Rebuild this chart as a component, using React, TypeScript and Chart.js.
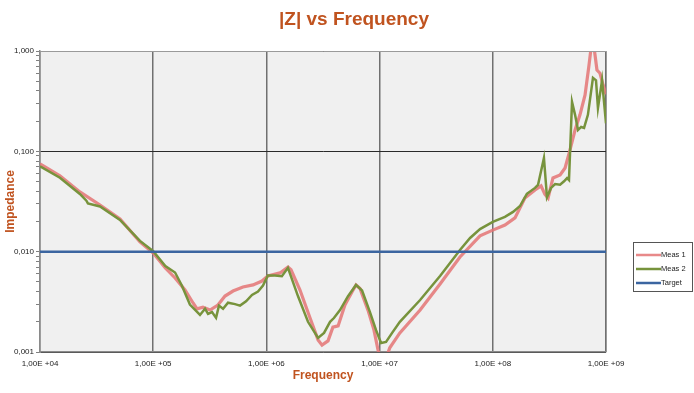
import React, { useEffect, useRef } from 'react';
import { Chart, registerables } from 'chart.js';

Chart.register(...registerables);

const chartTitle = '|Z| vs Frequency';
const xTitle = 'Frequency';
const yTitle = 'Impedance';
const seriesNames = ['Meas 1', 'Meas 2', 'Target'];

const meas1Freq = [
  1.0e4, 1.5e4, 2.25e4, 3.39e4, 5.09e4, 7.64e4, 1.0e5, 1.28e5, 1.56e5, 1.91e5, 2.25e5, 2.44e5,
  2.75e5, 3.18e5, 3.73e5, 4.31e5, 5.07e5, 6.21e5, 7.62e5, 9.14e5, 1.03e6, 1.32e6, 1.55e6,
  1.65e6, 1.98e6, 2.43e6, 2.86e6, 3.1e6, 3.5e6, 3.87e6, 4.3e6, 4.94e6, 5.7e6, 6.19e6, 6.71e6,
  7.91e6, 8.91e6, 9.68e6, 1.03e7, 1.14e7, 1.23e7, 1.51e7, 2.28e7, 3.42e7, 5.13e7, 7.71e7,
  1.0e8, 1.28e8, 1.57e8, 1.92e8, 2.36e8, 2.67e8, 2.88e8, 3.08e8, 3.4e8, 3.93e8, 4.35e8,
  4.81e8, 5.33e8, 5.89e8, 6.53e8, 7.08e8, 7.38e8, 7.83e8, 8.32e8, 8.85e8, 9.42e8, 1.0e9,
];
const meas1Z = [
  0.0748, 0.0569, 0.0394, 0.0292, 0.0212, 0.0125, 0.0097, 0.00687, 0.00547, 0.00415, 0.00308, 0.00269,
  0.0028, 0.00262, 0.00294, 0.00361, 0.00405, 0.00445, 0.00466, 0.0051, 0.00573, 0.00614, 0.00704,
  0.0066, 0.00415, 0.00218, 0.00132, 0.00117, 0.00129, 0.00177, 0.00182, 0.00294, 0.00396, 0.00466, 0.0043,
  0.0026, 0.00166, 0.00105, 0.0008, 0.00087, 0.0011, 0.00155, 0.00262, 0.00477, 0.00885, 0.01437,
  0.0164, 0.01845, 0.0217, 0.0343, 0.0412, 0.0452, 0.0375, 0.0343, 0.0543, 0.0582, 0.0683,
  0.1033, 0.163, 0.231, 0.365, 0.726, 1.07, 1.1, 0.647, 0.6, 0.46, 0.37,
];

const meas2Freq = [
  1.0e4, 1.5e4, 2.25e4, 2.57e4, 2.65e4, 3.39e4, 5.09e4, 7.64e4, 1.0e5, 1.28e5, 1.56e5, 1.79e5,
  2.11e5, 2.59e5, 2.87e5, 3.05e5, 3.31e5, 3.59e5, 3.81e5, 4.14e5, 4.58e5, 5.28e5, 5.85e5,
  6.61e5, 7.46e5, 8.43e5, 9.33e5, 1.03e6, 1.19e6, 1.37e6, 1.55e6, 1.9e6, 2.33e6, 2.86e6,
  3.23e6, 3.65e6, 3.95e6, 4.47e6, 5.26e6, 6.19e6, 7.0e6, 8.22e6, 9.29e6, 1.03e7, 1.14e7,
  1.29e7, 1.51e7, 2.28e7, 3.42e7, 5.13e7, 6.3e7, 7.71e7, 1.0e8, 1.28e8, 1.51e8, 1.74e8,
  2.0e8, 2.36e8, 2.51e8, 2.83e8, 3.01e8, 3.27e8, 3.55e8, 3.93e8, 4.26e8, 4.53e8, 4.71e8,
  5.01e8, 5.33e8, 5.66e8, 6.03e8, 6.4e8, 6.92e8, 7.67e8, 8.16e8, 8.49e8, 9.23e8, 1.0e9,
];
const meas2Z = [
  0.071, 0.0545, 0.0376, 0.0322, 0.0303, 0.0282, 0.0207, 0.0128, 0.0101, 0.0072, 0.0062, 0.0046,
  0.00297, 0.00234, 0.0027, 0.0024, 0.0025, 0.00219, 0.0029, 0.0027, 0.0031, 0.003, 0.0029,
  0.0032, 0.0037, 0.004, 0.0046, 0.0058, 0.0058, 0.0057, 0.0069, 0.00361, 0.002, 0.00138,
  0.00155, 0.002, 0.00218, 0.00262, 0.0036, 0.00466, 0.0041, 0.0025, 0.00166, 0.00123, 0.00126,
  0.00155, 0.002, 0.0033, 0.00573, 0.0104, 0.0137, 0.0168, 0.0198, 0.0222, 0.0249, 0.0285,
  0.0377, 0.0432, 0.0464, 0.0859, 0.0349, 0.0432, 0.0472, 0.0464, 0.0503, 0.0541, 0.0518,
  0.311, 0.231, 0.163, 0.175, 0.171, 0.231, 0.54, 0.51, 0.27, 0.51, 0.19,
];

const targetFreq = [1e4, 1e9];
const targetZ = [0.01, 0.01];

const xTickValues = [1e4, 1e5, 1e6, 1e7, 1e8, 1e9];
const yTickValues = [0.001, 0.01, 0.1, 1];
const yMinorSteps = [2, 3, 4, 5, 6, 7, 8, 9];

const seriesColors = ['rgba(228, 116, 116, 0.85)', '#77933c', '#3b65a0'];
const titleColor = '#c0531f';
const FONT = "'Liberation Sans', Arial, sans-serif";

const toPoints = (xs: number[], ys: number[]) => xs.map((x, i) => ({ x, y: ys[i] }));

const isDecade = (v: number) => Math.abs(Math.log10(v) - Math.round(Math.log10(v))) < 1e-6;

const fmtX = (v: number) => {
  const exp = Math.round(Math.log10(v));
  const mant = v / Math.pow(10, exp);
  const sign = exp < 0 ? '-' : '+';
  return `${mant.toFixed(2).replace('.', ',')}E ${sign}${String(Math.abs(exp)).padStart(2, '0')}`;
};
const fmtY = (v: number) => v.toFixed(3).replace('.', ',');

const decorPlugin = {
  id: 'decor',
  beforeDraw(chart: any) {
    const { ctx, chartArea: a, width, height } = chart;
    ctx.save();
    ctx.fillStyle = '#ffffff';
    ctx.fillRect(0, 0, width, height);
    ctx.fillStyle = '#f0f0f0';
    ctx.fillRect(a.left, a.top, a.right - a.left, a.bottom - a.top);
    ctx.restore();
  },
  afterDraw(chart: any) {
    const { ctx, chartArea: a } = chart;
    ctx.save();
    ctx.strokeStyle = '#9a9a9a';
    ctx.lineWidth = 1;
    ctx.beginPath();
    ctx.moveTo(a.left, a.top + 0.5);
    ctx.lineTo(a.right + 0.5, a.top + 0.5);
    ctx.lineTo(a.right + 0.5, a.bottom);
    ctx.stroke();

    ctx.fillStyle = titleColor;
    ctx.font = `bold 19px ${FONT}`;
    ctx.textAlign = 'center';
    ctx.textBaseline = 'middle';
    ctx.fillText(chartTitle, 354, 20);

    const lx = 633, ly = 242, lw = 59, lh = 49;
    ctx.fillStyle = '#ffffff';
    ctx.fillRect(lx, ly, lw, lh);
    ctx.strokeStyle = '#555555';
    ctx.lineWidth = 1;
    ctx.strokeRect(lx + 0.5, ly + 0.5, lw, lh);
    ctx.font = `7.5px ${FONT}`;
    ctx.textAlign = 'left';
    ctx.textBaseline = 'middle';
    seriesNames.forEach((name, i) => {
      const y = ly + 13 + i * 14;
      ctx.strokeStyle = seriesColors[i];
      ctx.lineWidth = 2.5;
      ctx.beginPath();
      ctx.moveTo(lx + 3, y);
      ctx.lineTo(lx + 28, y);
      ctx.stroke();
      ctx.fillStyle = '#222222';
      ctx.fillText(name, lx + 28, y);
    });
    ctx.restore();
  },
};

export default function App() {
  const ref = useRef<HTMLCanvasElement | null>(null);

  useEffect(() => {
    if (!ref.current) return;
    const chart = new Chart(ref.current, {
      type: 'scatter',
      data: {
        datasets: [
          {
            label: seriesNames[0],
            data: toPoints(meas1Freq, meas1Z),
            showLine: true,
            borderColor: seriesColors[0],
            borderWidth: 3.2,
            pointRadius: 0,
            tension: 0,
            order: 3,
          },
          {
            label: seriesNames[1],
            data: toPoints(meas2Freq, meas2Z),
            showLine: true,
            borderColor: seriesColors[1],
            borderWidth: 2.5,
            pointRadius: 0,
            tension: 0,
            order: 2,
          },
          {
            label: seriesNames[2],
            data: toPoints(targetFreq, targetZ),
            showLine: true,
            borderColor: seriesColors[2],
            borderWidth: 2.5,
            pointRadius: 0,
            order: 1,
          },
        ],
      },
      options: {
        animation: false,
        responsive: true,
        maintainAspectRatio: false,
        events: [],
        layout: { padding: { top: 51, right: 88, left: 0, bottom: 0 } },
        plugins: {
          legend: { display: false },
          title: { display: false },
          tooltip: { enabled: false },
        },
        scales: {
          x: {
            type: 'logarithmic',
            min: 1e4,
            max: 1e9,
            afterBuildTicks: (scale: any) => {
              scale.ticks = xTickValues.map((v) => ({ value: v, major: true }));
            },
            afterFit: (scale: any) => {
              scale.height = 41;
            },
            grid: { color: '#707070', lineWidth: 1.5, drawTicks: false },
            border: { color: '#8a8a8a', width: 1.5 },
            ticks: {
              autoSkip: false,
              maxRotation: 0,
              padding: 7,
              color: '#222',
              font: { family: FONT, size: 8 },
              callback: (v: any) => fmtX(Number(v)),
            },
            title: {
              display: true,
              text: xTitle,
              color: titleColor,
              font: { family: FONT, size: 12, weight: 'bold' },
              padding: { top: 10, bottom: 10 },
            },
          },
          y: {
            type: 'logarithmic',
            min: 0.001,
            max: 1,
            afterBuildTicks: (scale: any) => {
              const ticks: any[] = [];
              yTickValues.forEach((d, i) => {
                ticks.push({ value: d, major: true });
                if (i < yTickValues.length - 1) {
                  yMinorSteps.forEach((m) => ticks.push({ value: d * m, major: false }));
                }
              });
              scale.ticks = ticks;
            },
            afterFit: (scale: any) => {
              scale.width = 40;
            },
            grid: {
              color: (c: any) => (c.tick && isDecade(c.tick.value) ? '#2a2a2a' : 'rgba(0,0,0,0)'),
              tickColor: '#808080',
              tickLength: 4,
              lineWidth: 1,
            },
            border: { color: '#8a8a8a', width: 1.5 },
            ticks: {
              autoSkip: false,
              padding: 2,
              color: '#222',
              font: { family: FONT, size: 8 },
              callback: (v: any) => (isDecade(Number(v)) ? fmtY(Number(v)) : ''),
            },
            title: {
              display: true,
              text: yTitle,
              color: titleColor,
              font: { family: FONT, size: 12, weight: 'bold' },
              padding: { top: 3, bottom: 3 },
            },
          },
        },
      },
      plugins: [decorPlugin],
    } as any);
    return () => chart.destroy();
  }, []);

  return (
    <div style={{ position: 'fixed', left: 0, top: 0, width: 694, height: 393, background: '#fff' }}>
      <canvas ref={ref} />
    </div>
  );
}
